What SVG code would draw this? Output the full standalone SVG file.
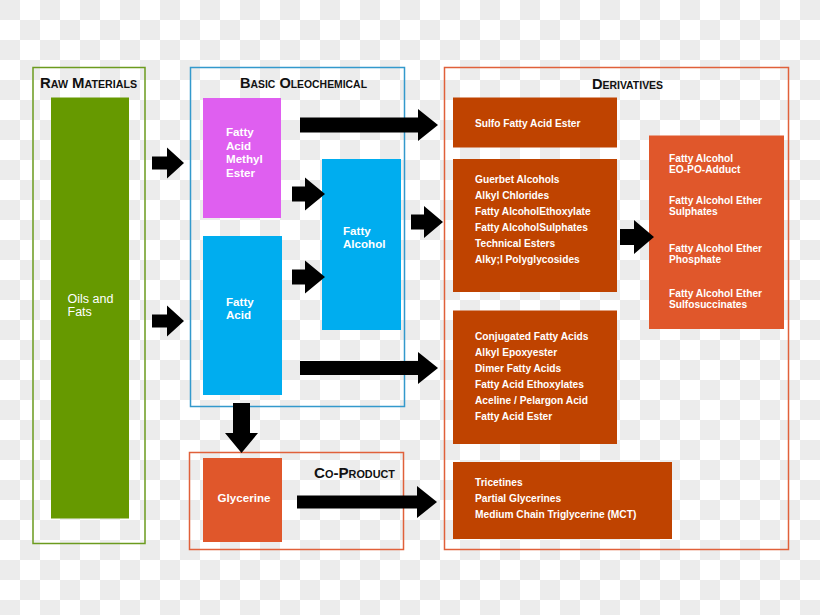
<svg xmlns="http://www.w3.org/2000/svg" width="820" height="615" viewBox="0 0 820 615">
<defs>
<pattern id="chk" width="40" height="40" patternUnits="userSpaceOnUse">
<rect width="40" height="40" fill="#ffffff"/>
<rect width="20" height="20" fill="#ececec"/>
<rect x="20" y="20" width="20" height="20" fill="#ececec"/>
</pattern>
<style>
.title{font-family:"Liberation Sans",Arial,sans-serif;font-weight:bold;font-variant:small-caps;font-size:14px;fill:#111}
.big{font-family:"Liberation Sans",Arial,sans-serif;font-weight:bold;font-size:11.6px;fill:#fff}
.reg{font-family:"Liberation Sans",Arial,sans-serif;font-size:12.5px;fill:#fff}
.sm{font-family:"Liberation Sans",Arial,sans-serif;font-weight:bold;font-size:10.2px;fill:#fff}
.arrow{fill:#000}
</style>
</defs>
<rect width="820" height="615" fill="url(#chk)"/>

<g id="raw-materials">
<rect x="33" y="67.5" width="112" height="476" fill="none" stroke="#6b9b1e" stroke-width="1.5"/>
<text class="title" x="40" y="88" textLength="97" lengthAdjust="spacingAndGlyphs">Raw Materials</text>
</g>
<g id="oils-fats">
<rect x="51" y="97.5" width="78" height="421" fill="#669900"/>
<text class="reg" x="67.5" y="302.5">Oils and</text>
<text class="reg" x="67.5" y="316">Fats</text>
</g>

<g id="basic-oleochemical">
<rect x="190.5" y="67.5" width="214" height="339" fill="none" stroke="#3399cc" stroke-width="1.5"/>
<text class="title" x="240" y="88" textLength="127" lengthAdjust="spacingAndGlyphs">Basic Oleochemical</text>
</g>
<g id="fame">
<rect x="203" y="98" width="78" height="120" fill="#df5ff0"/>
<text class="big" x="226" y="136">Fatty</text>
<text class="big" x="226" y="149.5">Acid</text>
<text class="big" x="226" y="163">Methyl</text>
<text class="big" x="226" y="176.5">Ester</text>
</g>
<g id="fatty-acid">
<rect x="203" y="236" width="79" height="159" fill="#00adef"/>
<text class="big" x="226" y="306">Fatty</text>
<text class="big" x="226" y="319">Acid</text>
</g>
<g id="fatty-alcohol">
<rect x="322" y="159" width="79" height="171" fill="#00adef"/>
<text class="big" x="343" y="234.5">Fatty</text>
<text class="big" x="343" y="247.5">Alcohol</text>
</g>

<g id="co-product">
<rect x="189.5" y="452.5" width="214" height="97" fill="none" stroke="#e0603a" stroke-width="1.5"/>
<text class="title" x="314" y="478" textLength="81" lengthAdjust="spacingAndGlyphs">Co-Product</text>
</g>
<g id="glycerine">
<rect x="203" y="458" width="79" height="84" fill="#e0572b"/>
<text class="big" x="244" y="501.5" text-anchor="middle">Glycerine</text>
</g>

<g id="derivatives">
<rect x="444.5" y="67.5" width="344" height="482" fill="none" stroke="#e0603a" stroke-width="1.5"/>
<text class="title" x="592" y="88.5" textLength="71" lengthAdjust="spacingAndGlyphs">Derivatives</text>
</g>
<g id="sulfo">
<rect x="453" y="97.5" width="164" height="50" fill="#bf4300"/>
<text class="sm" x="475" y="127">Sulfo Fatty Acid Ester</text>
</g>
<g id="alcohol-derivatives">
<rect x="453" y="159" width="164" height="133" fill="#bf4300"/>
<text class="sm" x="475" y="182.5">Guerbet Alcohols</text>
<text class="sm" x="475" y="198.5">Alkyl Chlorides</text>
<text class="sm" x="475" y="214.5">Fatty AlcoholEthoxylate</text>
<text class="sm" x="475" y="230.5">Fatty AlcoholSulphates</text>
<text class="sm" x="475" y="246.5">Technical Esters</text>
<text class="sm" x="475" y="262.5">Alky;l Polyglycosides</text>
</g>
<g id="acid-derivatives">
<rect x="453" y="310.5" width="164" height="133.5" fill="#bf4300"/>
<text class="sm" x="475" y="339.5">Conjugated Fatty Acids</text>
<text class="sm" x="475" y="355.5">Alkyl Epoxyester</text>
<text class="sm" x="475" y="371.5">Dimer Fatty Acids</text>
<text class="sm" x="475" y="387.5">Fatty Acid Ethoxylates</text>
<text class="sm" x="475" y="403.5">Aceline / Pelargon Acid</text>
<text class="sm" x="475" y="419.5">Fatty Acid Ester</text>
</g>
<g id="glycerine-derivatives">
<rect x="453" y="462" width="219" height="77" fill="#bf4300"/>
<text class="sm" x="475" y="486">Tricetines</text>
<text class="sm" x="475" y="502">Partial Glycerines</text>
<text class="sm" x="475" y="518">Medium Chain Triglycerine (MCT)</text>
</g>
<g id="ether-derivatives">
<rect x="649" y="135.5" width="135" height="193.5" fill="#e0572b"/>
<text class="sm" x="669" y="161.5">Fatty Alcohol</text>
<text class="sm" x="669" y="172.5">EO-PO-Adduct</text>
<text class="sm" x="669" y="203.5">Fatty Alcohol Ether</text>
<text class="sm" x="669" y="214.5">Sulphates</text>
<text class="sm" x="669" y="251.5">Fatty Alcohol Ether</text>
<text class="sm" x="669" y="262.5">Phosphate</text>
<text class="sm" x="669" y="296.5">Fatty Alcohol Ether</text>
<text class="sm" x="669" y="307.5">Sulfosuccinates</text>
</g>

<g id="connectors">
<path class="arrow" d="M152,156.5 L167,156.5 L167,147.5 L184,163 L167,178.5 L167,169.5 L152,169.5 Z"/>
<path class="arrow" d="M152,314.5 L167,314.5 L167,305.5 L184,321 L167,336.5 L167,327.5 L152,327.5 Z"/>
<path class="arrow" d="M292,186.5 L305,186.5 L305,177.5 L325,194 L305,210.5 L305,201.5 L292,201.5 Z"/>
<path class="arrow" d="M292,269.5 L305,269.5 L305,260.5 L325,277 L305,293.5 L305,284.5 L292,284.5 Z"/>
<path class="arrow" d="M300,117.5 L418,117.5 L418,109 L438,125 L418,141 L418,132.5 L300,132.5 Z"/>
<path class="arrow" d="M411,214.5 L424,214.5 L424,206 L443,222 L424,238 L424,229.5 L411,229.5 Z"/>
<path class="arrow" d="M300,361 L418,361 L418,352 L438,368 L418,384 L418,375 L300,375 Z"/>
<path class="arrow" d="M620,229 L634,229 L634,220 L654,237 L634,254 L634,245 L620,245 Z"/>
<path class="arrow" d="M233,403 L250,403 L250,433 L258,433 L241.5,453 L225,433 L233,433 Z"/>
<path class="arrow" d="M297,495.5 L417,495.5 L417,486 L437,502 L417,518 L417,508.5 L297,508.5 Z"/>
</g>
</svg>
